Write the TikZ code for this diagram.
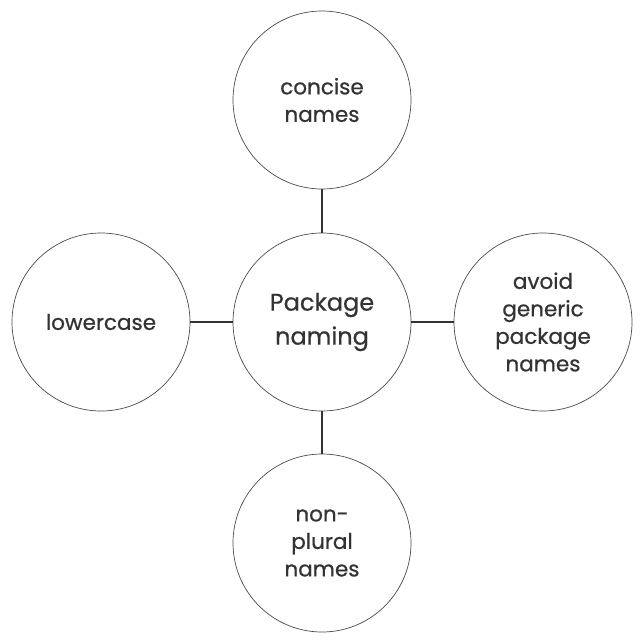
\documentclass[tikz,border=0pt]{standalone}
\usepackage{fontspec}
\setmainfont{Poppins}[FakeBold=0.6]
\begin{document}
\begin{tikzpicture}[x=1pt,y=-1pt,
  bubble/.style={circle,draw=black!70,line width=0.7pt,minimum size=178pt,inner sep=0pt,align=center,
    text=black!80,font=\fontsize{21.5}{27.5}\selectfont},
  hub/.style={bubble,font=\fontsize{24}{34}\selectfont},
  link/.style={draw=black!80,line width=1.5pt}]
\useasboundingbox[fill=white] (0,0) rectangle (642,642);
\node[hub] (c) at (322,322) {Package\\naming};
\node[bubble] (t) at (322,100) {concise\\names};
\node[bubble] (b) at (322,543) {non-\\plural\\names};
\node[bubble] (l) at (101,322) {lowercase};
\node[bubble] (r) at (543,322) {avoid\\generic\\package\\names};
\draw[link] (c) -- (t);
\draw[link] (c) -- (b);
\draw[link] (c) -- (l);
\draw[link] (c) -- (r);
\end{tikzpicture}
\end{document}
